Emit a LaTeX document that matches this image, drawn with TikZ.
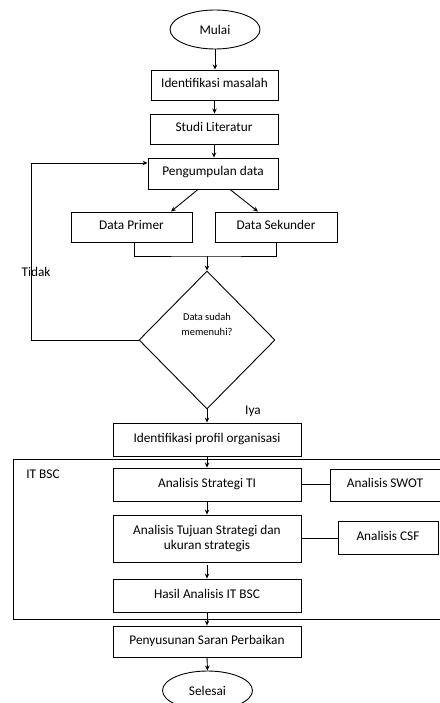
\documentclass[tikz,border=0pt]{standalone}
\usepackage{fontspec}
\setmainfont{Carlito}
\usetikzlibrary{shapes.geometric,arrows.meta,calc}
\begin{document}
\begin{tikzpicture}[x=1pt,y=-1pt,line width=0.9pt,
  txt/.style={font=\fontsize{13.3}{15}\selectfont},
  plainbox/.style={draw,rectangle,inner sep=0pt,align=center,txt},
  box/.style={plainbox,text height=10pt,text depth=5pt},
  term/.style={draw,ellipse,inner sep=0pt,minimum width=90pt,minimum height=39pt,txt},
  arr/.style={-{Stealth[length=5pt,width=4.5pt]}},
  lbl/.style={inner sep=0pt,txt}]
\useasboundingbox (0,0) rectangle (439,703);
\node[term] (mulai) at (215,29.5) {Mulai};
\node[box,minimum width=127pt,minimum height=30pt] (ident) at (214.5,85) {Identifikasi masalah};
\node[box,minimum width=128pt,minimum height=30pt] (studi) at (214,129) {Studi Literatur};
\node[box,minimum width=130pt,minimum height=31pt] (peng) at (213,173.5) {Pengumpulan data};
\node[box,minimum width=121pt,minimum height=30pt] (primer) at (131.5,227) {Data Primer};
\node[box,minimum width=122pt,minimum height=30pt] (sekunder) at (276,227) {Data Sekunder};
\node[draw,diamond,minimum width=136pt,minimum height=138pt,inner sep=0pt] (cek) at (207,340) {};
\node[lbl,font=\fontsize{10.5}{15}\selectfont,align=center] (cektext) at (207,324) {Data sudah\\memenuhi?};
\node[lbl] (tidak) at (36,272) {Tidak};
\node[lbl] (iya) at (253,411) {Iya};
\node[box,minimum width=188pt,minimum height=33pt] (profil) at (207,439.5) {Identifikasi profil organisasi};
\node[draw,rectangle,inner sep=0pt,minimum width=430pt,minimum height=160pt] (bscframe) at (228,539) {};
\node[lbl] (bsclabel) at (43,474) {IT BSC};
\node[box,minimum width=188pt,minimum height=33pt] (strat) at (207,484.5) {Analisis Strategi TI};
\node[box,minimum width=110pt,minimum height=32pt] (swot) at (385,485) {Analisis SWOT};
\node[plainbox,minimum width=188pt,minimum height=47pt] (tujuan) at (207,538.5) {Analisis Tujuan Strategi dan\\ukuran strategis};
\node[box,minimum width=100pt,minimum height=33pt] (csf) at (388,537.5) {Analisis CSF};
\node[box,minimum width=188pt,minimum height=33pt] (hasil) at (207,595.5) {Hasil Analisis IT BSC};
\node[box,minimum width=188pt,minimum height=31pt] (saran) at (207,641.5) {Penyusunan Saran Perbaikan};
\node[term] (selesai) at (207.5,690.5) {Selesai};
\coordinate (join) at (207,256);
\draw[arr] (mulai.south) -- (mulai.south |- ident.north);
\draw[arr] (ident.south) -- (ident.south |- studi.north);
\draw[arr] (studi.south) -- (studi.south |- peng.north);
\draw[arr] ($(peng.south)+(-15,0)$) -- ($(primer.north)+(39.5,0)$);
\draw[arr] ($(peng.south)+(17,0)$) -- ($(sekunder.north)+(-18,0)$);
\draw ($(primer.south)+(3,0)$) |- (join) -| (sekunder.south);
\draw[arr] (join) -- (cek.north);
\draw[arr] (cek.west) -- ++(-107,0) |- ($(peng.west)+(0,-10.5)$);
\draw[arr] (cek.south) -- (cek.south |- profil.north);
\draw[arr] (profil.south) -- (strat.north);
\draw (strat.east) -- (strat.east -| swot.west);
\draw[arr] (strat.south) -- (tujuan.north);
\draw (tujuan.east) -- (tujuan.east -| csf.west);
\draw[arr,shorten <=3pt] (tujuan.south) -- (hasil.north);
\draw[arr] (hasil.south) -- (saran.north);
\draw[arr] (saran.south) -- (selesai.north);
\end{tikzpicture}
\end{document}
